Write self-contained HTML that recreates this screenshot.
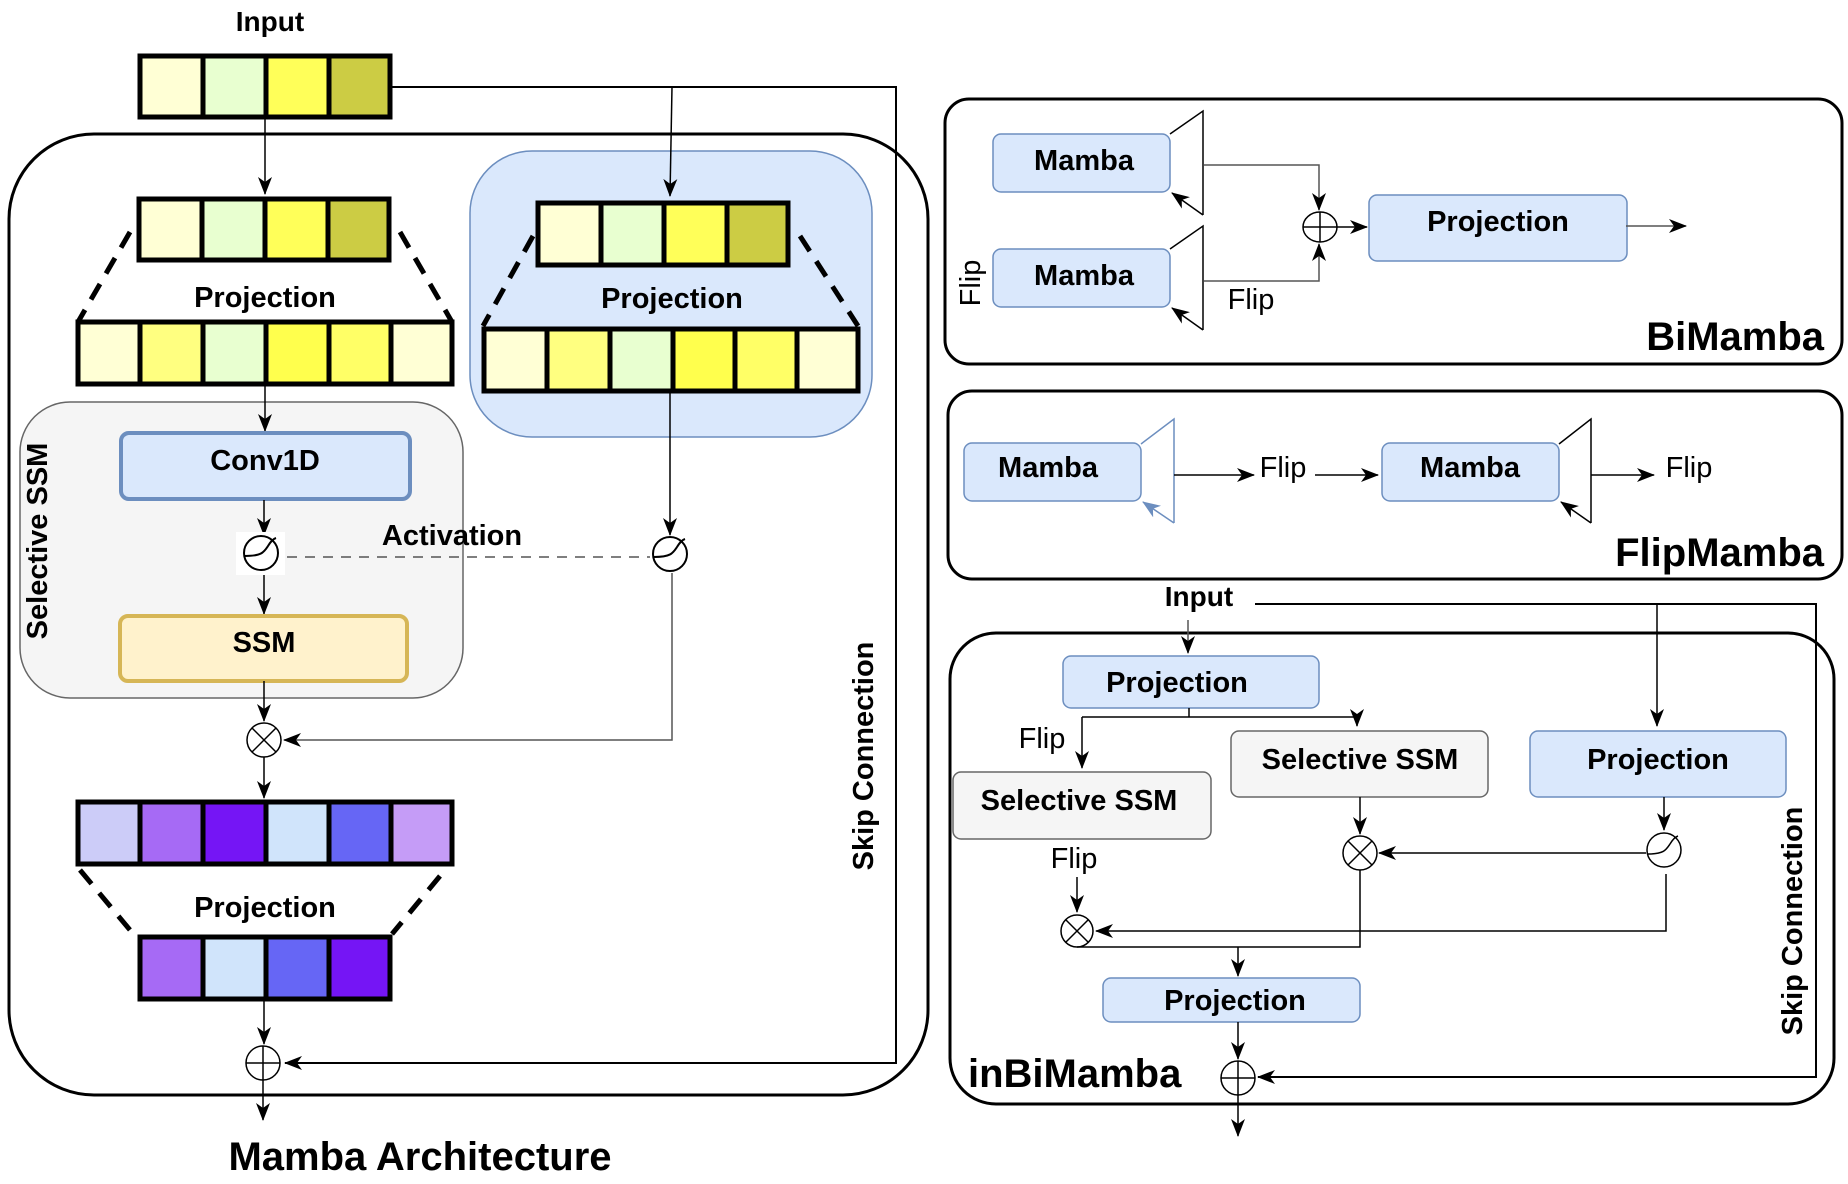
<!DOCTYPE html>
<html><head><meta charset="utf-8"><style>
html,body{margin:0;padding:0;background:#fff;}
svg{display:block;}
text{font-family:"Liberation Sans",Arial,sans-serif;fill:#000;}
.b{font-weight:bold;}
</style></head><body>
<svg width="1848" height="1184" viewBox="0 0 1848 1184" xmlns="http://www.w3.org/2000/svg">
<defs>
<marker id="a" markerUnits="userSpaceOnUse" markerWidth="20" markerHeight="16" refX="17" refY="7" orient="auto">
<path d="M0,0 L18,7 L0,14 L5,7 z" fill="#000"/>
</marker>
<marker id="ab" markerUnits="userSpaceOnUse" markerWidth="20" markerHeight="16" refX="17" refY="7" orient="auto">
<path d="M0,0 L18,7 L0,14 L5,7 z" fill="#6c8ebf"/>
</marker>
</defs>

<!-- ============ LEFT: Mamba Architecture ============ -->
<text x="270" y="31" class="b" font-size="28" text-anchor="middle">Input</text>

<rect x="9" y="134" width="919" height="961" rx="85" fill="none" stroke="#000" stroke-width="3"/>

<polyline points="391,87 896,87 896,1063 285,1063" fill="none" stroke="#000" stroke-width="2" marker-end="url(#a)"/>
<line x1="265" y1="119" x2="265" y2="194" stroke="#000" stroke-width="1.5" marker-end="url(#a)"/>

<rect x="470" y="151" width="402" height="286" rx="62" fill="#dae8fc" stroke="#6c8ebf" stroke-width="1.5"/>
<line x1="672" y1="87" x2="670" y2="196" stroke="#000" stroke-width="1.5" marker-end="url(#a)"/>

<rect x="20" y="402" width="443" height="296" rx="50" fill="#f5f5f5" stroke="#666" stroke-width="1.5"/>
<text transform="translate(47,541) rotate(-90)" class="b" font-size="29" text-anchor="middle">Selective SSM</text>

<g stroke="#000" stroke-width="5">
<rect x="140" y="56" width="63" height="61" fill="#ffffd5"/>
<rect x="203" y="56" width="63" height="61" fill="#e8ffd0"/>
<rect x="266" y="56" width="63" height="61" fill="#ffff59"/>
<rect x="329" y="56" width="61" height="61" fill="#cccc44"/>
</g>
<g stroke="#000" stroke-width="5">
<rect x="139" y="199" width="63" height="61" fill="#ffffd5"/>
<rect x="202" y="199" width="63" height="61" fill="#e8ffd0"/>
<rect x="265" y="199" width="63" height="61" fill="#ffff59"/>
<rect x="328" y="199" width="61" height="61" fill="#cccc44"/>
</g>
<path d="M130,232 L78,322 M400,232 L452,322" stroke="#000" stroke-width="5" stroke-dasharray="18,12" fill="none"/>
<text x="265" y="307" class="b" font-size="29" text-anchor="middle">Projection</text>
<g stroke="#000" stroke-width="5">
<rect x="78" y="322" width="62" height="62" fill="#ffffd5"/>
<rect x="140" y="322" width="63" height="62" fill="#ffff80"/>
<rect x="203" y="322" width="63" height="62" fill="#e8ffd0"/>
<rect x="266" y="322" width="63" height="62" fill="#ffff4d"/>
<rect x="329" y="322" width="62" height="62" fill="#ffff66"/>
<rect x="391" y="322" width="61" height="62" fill="#ffffd5"/>
</g>

<g stroke="#000" stroke-width="5">
<rect x="538" y="203" width="63" height="62" fill="#ffffd5"/>
<rect x="601" y="203" width="63" height="62" fill="#e8ffd0"/>
<rect x="664" y="203" width="63" height="62" fill="#ffff59"/>
<rect x="727" y="203" width="61" height="62" fill="#cccc44"/>
</g>
<path d="M533,236 L483,326 M800,236 L858,326" stroke="#000" stroke-width="5" stroke-dasharray="18,12" fill="none"/>
<text x="672" y="308" class="b" font-size="29" text-anchor="middle">Projection</text>
<g stroke="#000" stroke-width="5">
<rect x="484" y="329" width="63" height="62" fill="#ffffd5"/>
<rect x="547" y="329" width="63" height="62" fill="#ffff80"/>
<rect x="610" y="329" width="63" height="62" fill="#e8ffd0"/>
<rect x="673" y="329" width="62" height="62" fill="#ffff4d"/>
<rect x="735" y="329" width="62" height="62" fill="#ffff66"/>
<rect x="797" y="329" width="61" height="62" fill="#ffffd5"/>
</g>

<line x1="265" y1="385" x2="265" y2="431" stroke="#000" stroke-width="1.5" marker-end="url(#a)"/>
<rect x="121" y="433" width="289" height="66" rx="8" fill="#dae8fc" stroke="#6c8ebf" stroke-width="4"/>
<text x="265" y="470" class="b" font-size="29" text-anchor="middle">Conv1D</text>

<line x1="264" y1="500" x2="264" y2="535" stroke="#000" stroke-width="1.5" marker-end="url(#a)"/>
<rect x="236" y="532" width="49" height="43" fill="#fff"/>
<circle cx="261" cy="553" r="17" fill="#fff" stroke="#000" stroke-width="2"/>
<path d="M245,556 C262,556 264,552 268,546 C271,541 273,539 276,538" fill="none" stroke="#000" stroke-width="2"/>
<text x="452" y="545" class="b" font-size="29" text-anchor="middle">Activation</text>
<line x1="287" y1="557" x2="650" y2="557" stroke="#555" stroke-width="1.5" stroke-dasharray="10,8"/>
<line x1="670" y1="391" x2="670" y2="535" stroke="#000" stroke-width="1.5" marker-end="url(#a)"/>
<circle cx="670" cy="554" r="17" fill="#fff" stroke="#000" stroke-width="2"/>
<path d="M654,557 C671,557 673,553 677,547 C680,542 682,540 685,539" fill="none" stroke="#000" stroke-width="2"/>

<line x1="264" y1="575" x2="264" y2="614" stroke="#000" stroke-width="1.5" marker-end="url(#a)"/>
<rect x="120" y="616" width="287" height="65" rx="8" fill="#fff2cc" stroke="#d6b656" stroke-width="4"/>
<text x="264" y="652" class="b" font-size="29" text-anchor="middle">SSM</text>

<line x1="264" y1="681" x2="264" y2="721" stroke="#000" stroke-width="1.5" marker-end="url(#a)"/>
<polyline points="672,573 672,740 284,740" fill="none" stroke="#555" stroke-width="1.5" marker-end="url(#a)"/>
<circle cx="264" cy="740" r="17" fill="#fff" stroke="#000" stroke-width="1.5"/>
<path d="M252,728 L276,752 M276,728 L252,752" stroke="#000" stroke-width="1.5"/>
<line x1="264" y1="757" x2="264" y2="798" stroke="#000" stroke-width="1.5" marker-end="url(#a)"/>

<g stroke="#000" stroke-width="5">
<rect x="78" y="802" width="62" height="62" fill="#ccccf8"/>
<rect x="140" y="802" width="63" height="62" fill="#a66af5"/>
<rect x="203" y="802" width="63" height="62" fill="#7515f5"/>
<rect x="266" y="802" width="63" height="62" fill="#d0e4fb"/>
<rect x="329" y="802" width="62" height="62" fill="#6666f5"/>
<rect x="391" y="802" width="61" height="62" fill="#c59cf7"/>
</g>
<path d="M80,870 L130,930 M440,876 L392,934" stroke="#000" stroke-width="5" stroke-dasharray="18,12" fill="none"/>
<text x="265" y="917" class="b" font-size="29" text-anchor="middle">Projection</text>
<g stroke="#000" stroke-width="5">
<rect x="140" y="937" width="63" height="62" fill="#a66af5"/>
<rect x="203" y="937" width="63" height="62" fill="#d0e4fb"/>
<rect x="266" y="937" width="63" height="62" fill="#6666f5"/>
<rect x="329" y="937" width="61" height="62" fill="#7515f5"/>
</g>
<line x1="264" y1="1000" x2="264" y2="1044" stroke="#000" stroke-width="1.5" marker-end="url(#a)"/>
<circle cx="263" cy="1063" r="17" fill="#fff" stroke="#000" stroke-width="1.5"/>
<path d="M246,1063 L280,1063 M263,1046 L263,1080" stroke="#000" stroke-width="1.5"/>
<line x1="263" y1="1080" x2="263" y2="1120" stroke="#000" stroke-width="1.5" marker-end="url(#a)"/>

<text x="420" y="1170" class="b" font-size="40" text-anchor="middle">Mamba Architecture</text>
<text transform="translate(873,756) rotate(-90)" class="b" font-size="29" text-anchor="middle">Skip Connection</text>

<!-- ============ BiMamba ============ -->
<rect x="945" y="99" width="897" height="265" rx="24" fill="none" stroke="#000" stroke-width="3"/>
<rect x="993" y="134" width="177" height="58" rx="8" fill="#dae8fc" stroke="#6c8ebf" stroke-width="1.5"/>
<text x="1084" y="170" class="b" font-size="29" text-anchor="middle">Mamba</text>
<rect x="993" y="249" width="177" height="58" rx="8" fill="#dae8fc" stroke="#6c8ebf" stroke-width="1.5"/>
<text x="1084" y="285" class="b" font-size="29" text-anchor="middle">Mamba</text>
<path d="M1170,134 L1203,111 L1203,215" fill="none" stroke="#000" stroke-width="1.5"/>
<line x1="1203" y1="215" x2="1172" y2="193" stroke="#000" stroke-width="1.5" marker-end="url(#a)"/>
<path d="M1170,249 L1203,226 L1203,330" fill="none" stroke="#000" stroke-width="1.5"/>
<line x1="1203" y1="330" x2="1172" y2="308" stroke="#000" stroke-width="1.5" marker-end="url(#a)"/>
<polyline points="1204,165 1319,165 1319,210" fill="none" stroke="#555" stroke-width="1.5" marker-end="url(#a)"/>
<polyline points="1204,281 1319,281 1319,244" fill="none" stroke="#555" stroke-width="1.5" marker-end="url(#a)"/>
<ellipse cx="1320" cy="227" rx="17" ry="15" fill="#fff" stroke="#000" stroke-width="1.5"/>
<path d="M1303,227 L1337,227 M1320,212 L1320,242" stroke="#000" stroke-width="1.5"/>
<line x1="1337" y1="227" x2="1367" y2="227" stroke="#000" stroke-width="1.5" marker-end="url(#a)"/>
<rect x="1369" y="195" width="258" height="66" rx="8" fill="#dae8fc" stroke="#6c8ebf" stroke-width="1.5"/>
<text x="1498" y="231" class="b" font-size="29" text-anchor="middle">Projection</text>
<line x1="1626" y1="226" x2="1686" y2="226" stroke="#555" stroke-width="1.5" marker-end="url(#a)"/>
<text x="1251" y="309" font-size="29" text-anchor="middle">Flip</text>
<text transform="translate(980,283) rotate(-90)" font-size="29" text-anchor="middle">Flip</text>
<text x="1824" y="350" class="b" font-size="40" text-anchor="end">BiMamba</text>

<!-- ============ FlipMamba ============ -->
<rect x="948" y="391" width="894" height="188" rx="24" fill="none" stroke="#000" stroke-width="3"/>
<rect x="964" y="443" width="177" height="58" rx="8" fill="#dae8fc" stroke="#6c8ebf" stroke-width="1.5"/>
<text x="1048" y="477" class="b" font-size="29" text-anchor="middle">Mamba</text>
<path d="M1141,444 L1174,419 L1174,523" fill="none" stroke="#6c8ebf" stroke-width="1.5"/>
<line x1="1174" y1="523" x2="1143" y2="502" stroke="#6c8ebf" stroke-width="1.5" marker-end="url(#ab)"/>
<line x1="1174" y1="475" x2="1254" y2="475" stroke="#000" stroke-width="1.5" marker-end="url(#a)"/>
<text x="1283" y="477" font-size="29" text-anchor="middle">Flip</text>
<line x1="1315" y1="475" x2="1378" y2="475" stroke="#000" stroke-width="1.5" marker-end="url(#a)"/>
<rect x="1382" y="443" width="177" height="58" rx="8" fill="#dae8fc" stroke="#6c8ebf" stroke-width="1.5"/>
<text x="1470" y="477" class="b" font-size="29" text-anchor="middle">Mamba</text>
<path d="M1559,444 L1591,419 L1591,523" fill="none" stroke="#000" stroke-width="1.5"/>
<line x1="1591" y1="523" x2="1561" y2="502" stroke="#000" stroke-width="1.5" marker-end="url(#a)"/>
<line x1="1591" y1="475" x2="1654" y2="475" stroke="#000" stroke-width="1.5" marker-end="url(#a)"/>
<text x="1689" y="477" font-size="29" text-anchor="middle">Flip</text>
<text x="1824" y="566" class="b" font-size="40" text-anchor="end">FlipMamba</text>

<!-- ============ inBiMamba ============ -->
<text x="1199" y="606" class="b" font-size="28" text-anchor="middle">Input</text>
<rect x="950" y="633" width="884" height="471" rx="46" fill="none" stroke="#000" stroke-width="3"/>
<polyline points="1255,604 1816,604 1816,1077 1258,1077" fill="none" stroke="#000" stroke-width="2" marker-end="url(#a)"/>
<line x1="1657" y1="604" x2="1657" y2="726" stroke="#000" stroke-width="1.5" marker-end="url(#a)"/>
<line x1="1188" y1="620" x2="1188" y2="653" stroke="#555" stroke-width="1.5" marker-end="url(#a)"/>
<rect x="1063" y="656" width="256" height="52" rx="8" fill="#dae8fc" stroke="#6c8ebf" stroke-width="1.5"/>
<text x="1177" y="692" class="b" font-size="29" text-anchor="middle">Projection</text>
<line x1="1189" y1="708" x2="1189" y2="717" stroke="#000" stroke-width="1.5"/>
<polyline points="1082,717 1357,717 1357,726" fill="none" stroke="#000" stroke-width="1.5" marker-end="url(#a)"/>
<line x1="1082" y1="717" x2="1082" y2="768" stroke="#000" stroke-width="1.5" marker-end="url(#a)"/>
<text x="1042" y="748" font-size="29" text-anchor="middle">Flip</text>
<rect x="953" y="772" width="258" height="67" rx="8" fill="#f5f5f5" stroke="#666" stroke-width="1.5"/>
<text x="1079" y="810" class="b" font-size="29" text-anchor="middle">Selective SSM</text>
<rect x="1231" y="731" width="257" height="66" rx="8" fill="#f5f5f5" stroke="#666" stroke-width="1.5"/>
<text x="1360" y="769" class="b" font-size="29" text-anchor="middle">Selective SSM</text>
<rect x="1530" y="731" width="256" height="66" rx="8" fill="#dae8fc" stroke="#6c8ebf" stroke-width="1.5"/>
<text x="1658" y="769" class="b" font-size="29" text-anchor="middle">Projection</text>

<line x1="1360" y1="797" x2="1360" y2="834" stroke="#000" stroke-width="1.5" marker-end="url(#a)"/>
<line x1="1664" y1="797" x2="1664" y2="830" stroke="#000" stroke-width="1.5" marker-end="url(#a)"/>
<circle cx="1664" cy="850" r="17" fill="#fff" stroke="#000" stroke-width="1.5"/>
<path d="M1648,854 C1664,854 1666,850 1670,844 C1673,839 1675,837 1678,836" fill="none" stroke="#000" stroke-width="1.5"/>
<line x1="1646" y1="853" x2="1379" y2="853" stroke="#000" stroke-width="1.5" marker-end="url(#a)"/>
<circle cx="1360" cy="853" r="17" fill="#fff" stroke="#000" stroke-width="1.5"/>
<path d="M1348,841 L1372,865 M1372,841 L1348,865" stroke="#000" stroke-width="1.5"/>

<text x="1074" y="868" font-size="29" text-anchor="middle">Flip</text>
<line x1="1077" y1="877" x2="1077" y2="912" stroke="#000" stroke-width="1.5" marker-end="url(#a)"/>
<polyline points="1666,874 1666,931 1096,931" fill="none" stroke="#000" stroke-width="1.5" marker-end="url(#a)"/>
<circle cx="1077" cy="931" r="16" fill="#fff" stroke="#000" stroke-width="1.5"/>
<path d="M1066,920 L1088,942 M1088,920 L1066,942" stroke="#000" stroke-width="1.5"/>
<polyline points="1360,870 1360,947 1077,947" fill="none" stroke="#000" stroke-width="1.5"/>
<line x1="1238" y1="947" x2="1238" y2="976" stroke="#000" stroke-width="1.5" marker-end="url(#a)"/>
<rect x="1103" y="978" width="257" height="44" rx="8" fill="#dae8fc" stroke="#6c8ebf" stroke-width="1.5"/>
<text x="1235" y="1010" class="b" font-size="29" text-anchor="middle">Projection</text>
<line x1="1238" y1="1022" x2="1238" y2="1059" stroke="#000" stroke-width="1.5" marker-end="url(#a)"/>
<circle cx="1238" cy="1078" r="17" fill="#fff" stroke="#000" stroke-width="1.5"/>
<path d="M1221,1078 L1255,1078 M1238,1061 L1238,1095" stroke="#000" stroke-width="1.5"/>
<line x1="1238" y1="1095" x2="1238" y2="1136" stroke="#000" stroke-width="1.5" marker-end="url(#a)"/>
<text x="968" y="1087" class="b" font-size="40">inBiMamba</text>
<text transform="translate(1802,921) rotate(-90)" class="b" font-size="29" text-anchor="middle">Skip Connection</text>
</svg>
</body></html>
